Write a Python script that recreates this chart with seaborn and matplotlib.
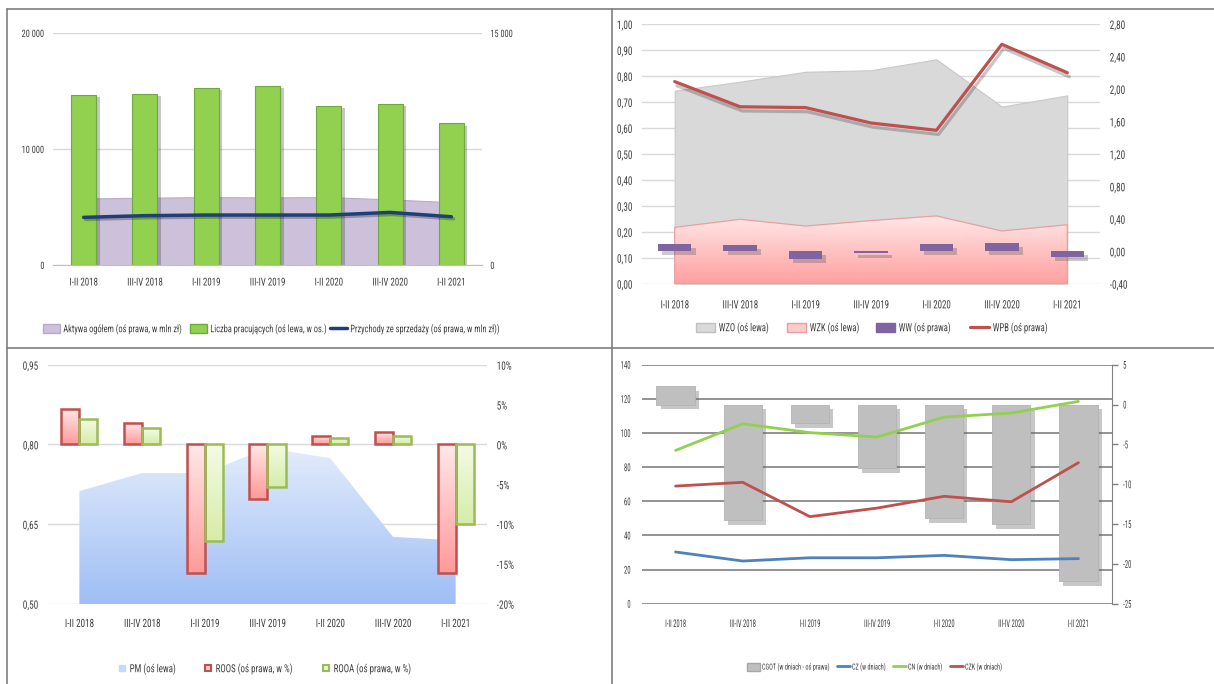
import numpy as np
import pandas as pd
import seaborn as sns
import matplotlib.pyplot as plt
import matplotlib.patheffects as pe
from matplotlib import font_manager
from matplotlib.colors import LinearSegmentedColormap
from matplotlib.lines import Line2D
from matplotlib.patches import Patch
from matplotlib.ticker import FuncFormatter
from matplotlib.transforms import Affine2D

okresy = ['I-II 2018', 'III-IV 2018', 'I-II 2019', 'III-IV 2019', 'I-II 2020', 'III-IV 2020', 'I-II 2021']

# panel 1 - zatrudnienie, aktywa, przychody
liczba_pracujacych = [14640, 14780, 15290, 15400, 13690, 13890, 12200]
aktywa = [4300, 4350, 4390, 4370, 4390, 4240, 4060]
przychody = [3080, 3190, 3230, 3230, 3230, 3400, 3120]

# panel 2 - wskazniki plynnosci
wzo = [0.743, 0.778, 0.816, 0.822, 0.864, 0.682, 0.725]
wzk = [0.217, 0.248, 0.222, 0.243, 0.261, 0.203, 0.227]
ww = [0.093, 0.076, -0.096, -0.026, 0.093, 0.105, -0.067]
wpb = [2.09, 1.78, 1.77, 1.58, 1.49, 2.55, 2.20]

# panel 3 - rentownosc
pm = [0.712, 0.746, 0.746, 0.793, 0.774, 0.626, 0.619]
roos = [4.5, 2.7, -16.1, -6.8, 1.05, 1.6, -16.1]
rooa = [3.2, 2.0, -12.1, -5.4, 0.8, 1.05, -10.0]

# panel 4 - cykle (w dniach)
cgot = [2.3, -14.5, -2.3, -8.0, -14.3, -15.0, -22.2]
cz = [30.3, 25.0, 26.9, 26.9, 28.3, 25.8, 26.4]
cn = [89.8, 105.4, 100.2, 97.6, 109.3, 111.7, 118.5]
czk = [68.9, 71.1, 51.0, 56.0, 62.9, 59.7, 82.6]

sns.set_style('white')

# waska czcionka, jesli jest (oryginal to sciesniony Calibri)
fonts = font_manager.fontManager.ttflist
names = {f.name for f in fonts}
stretch = 'normal'
family = 'Liberation Sans'
for cand in ['Liberation Sans Narrow', 'Roboto Condensed', 'Open Sans Condensed', 'Arial Narrow']:
    if cand in names:
        family = cand
        break
else:
    if any(f.name == 'DejaVu Sans' and f.stretch == 'condensed' for f in fonts):
        family, stretch = 'DejaVu Sans', 'condensed'
    else:
        cond = sorted(n for n in names if 'Condensed' in n or 'Narrow' in n)
        if cond:
            family = cond[0]
plt.rcParams['font.family'] = [family, 'DejaVu Sans']
plt.rcParams['font.stretch'] = stretch
plt.rcParams['axes.unicode_minus'] = False

W, H = 1214, 684
fig = plt.figure(figsize=(W / 100, H / 100), dpi=100)
pos = np.arange(len(okresy))
txt = '#404040'


class Squeeze(pe.AbstractPathEffect):
    """zweza napis w poziomie (obraz oryginalu jest sciesniony)"""

    def __init__(self, sx, anchor='center'):
        super().__init__()
        self.sx = sx
        self.anchor = anchor

    def draw_path(self, renderer, gc, tpath, affine, rgbFace=None):
        ext = tpath.get_extents()
        cx = {'left': 0, 'center': (ext.x0 + ext.x1) / 2, 'right': ext.x1}[self.anchor]
        t = Affine2D().translate(-cx, 0).scale(self.sx, 1).translate(cx, 0) + affine
        renderer.draw_path(gc, tpath, t, rgbFace)


def squeeze_ticks(ax, sx, which):
    if which == 'x':
        for t in ax.get_xticklabels():
            t.set_path_effects([Squeeze(sx, 'center')])
    elif which == 'left':
        for t in ax.get_yticklabels():
            t.set_path_effects([Squeeze(sx, 'right')])
    else:
        for t in ax.get_yticklabels():
            t.set_path_effects([Squeeze(sx, 'left')])


def box(x0, y0, x1, y1):
    return [x0 / W, 1 - y1 / H, (x1 - x0) / W, (y1 - y0) / H]


def clean(ax, size=7.5):
    for s in ax.spines.values():
        s.set_visible(False)
    ax.set_xlabel('')
    ax.set_ylabel('')
    ax.tick_params(length=0, labelsize=size, colors=txt)


def gradient(ax, clip, extent, c_top, c_bottom, z, transform=None):
    cmap = LinearSegmentedColormap.from_list('g', [c_bottom, c_top])
    img = ax.imshow(np.linspace(0, 1, 200).reshape(-1, 1), cmap=cmap, extent=extent,
                    origin='lower', aspect='auto', zorder=z, interpolation='bilinear')
    if transform is None:
        img.set_clip_path(clip)
    else:
        img.set_clip_path(clip, transform)
    return img


def legend_row(handles, labels, xs, y, sx, size, hlen, **kw):
    # kazdy wpis osobno, na pozycji z oryginalu
    for h, lab, x in zip(handles, labels, xs):
        leg = fig.legend([h], [lab], loc='center left', bbox_to_anchor=(x / W, 1 - y / H),
                         frameon=False, borderpad=0, borderaxespad=0, fontsize=size,
                         labelcolor=txt, handlelength=hlen, handletextpad=0.3, **kw)
        for t in leg.get_texts():
            t.set_path_effects([Squeeze(sx, 'left')])


dec2 = FuncFormatter(lambda v, p: f'{(0 if abs(v) < 1e-9 else v):.2f}'.replace('.', ','))
thous = FuncFormatter(lambda v, p: f'{v:,.0f}'.replace(',', ' '))
SX = 0.82

# ---------------- panel 1 ----------------
ax1 = fig.add_axes(box(53, 33, 482, 265))
ax1r = ax1.twinx()
ax1l = ax1.twinx()
ax1r.set_zorder(0)
ax1.set_zorder(1)
ax1l.set_zorder(2)
ax1.patch.set_visible(False)
ax1l.patch.set_visible(False)

ax1r.fill_between(pos, aktywa, color='#ccc0da', edgecolor='#b8aacb', lw=0.8)
sns.barplot(x=pos, y=liczba_pracujacych, ax=ax1, color='#92d050', width=0.41,
            saturation=1, edgecolor='#6fa83f', linewidth=0.8)
for bar in ax1.patches:
    bar.set_path_effects([pe.SimplePatchShadow(offset=(2.5, -1.5), shadow_rgbFace='#404040', alpha=0.3),
                          pe.Normal()])
sns.lineplot(x=pos, y=przychody, ax=ax1l, color='#1f3f7a', lw=2.5)
ax1l.lines[-1].set_path_effects([pe.SimpleLineShadow(offset=(1.5, -1.5), alpha=0.25), pe.Normal()])

for a in (ax1, ax1r, ax1l):
    clean(a, 7.3)
ax1.set_ylim(0, 20000)
ax1.set_yticks([0, 10000, 20000])
ax1.yaxis.set_major_formatter(thous)
ax1.grid(axis='y', color='#d9d9d9', lw=1)
ax1.set_axisbelow(True)
ax1r.set_ylim(0, 15000)
ax1r.set_yticks([0, 15000])
ax1r.yaxis.set_major_formatter(thous)
ax1l.set_ylim(0, 15000)
ax1l.tick_params(right=False, labelright=False)
ax1.set_xlim(-0.5, 6.5)
ax1.set_xticks(pos, okresy)
ax1.set_xticks(np.arange(-0.5, 7, 1), minor=True)
ax1.tick_params(axis='x', which='minor', length=4, color='#bfbfbf', width=1)
ax1.tick_params(axis='x', pad=9, labelsize=7.8)
ax1.tick_params(axis='y', pad=6)
ax1r.tick_params(axis='y', pad=6)
ax1.spines['bottom'].set_visible(True)
ax1.spines['bottom'].set_color('#bfbfbf')
squeeze_ticks(ax1, SX, 'x')
squeeze_ticks(ax1, SX, 'left')
squeeze_ticks(ax1r, SX, 'right')

legend_row([Patch(facecolor='#ccc0da', edgecolor='#b8aacb'),
            Patch(facecolor='#92d050', edgecolor='#6fa83f'),
            Line2D([], [], color='#1f3f7a', lw=2.5)],
           ['Aktywa ogółem (oś prawa, w mln zł)', 'Liczba pracujących (oś lewa, w os.)',
            'Przychody ze sprzedaży (oś prawa, w mln zł))'],
           [43, 190, 330], 329, 0.8, 7.5, 1.65, handleheight=0.85)

# ---------------- panel 2 ----------------
ax2 = fig.add_axes(box(642, 24, 1100, 283.7))
ax2r = ax2.twinx()
ax2.fill_between(pos, wzo, color='#d9d9d9', edgecolor='#c8c8c8', lw=0.8, zorder=2)
poly = ax2.fill_between(pos, wzk, facecolor='none', edgecolor='#e8a0a0', lw=0.9, zorder=3)
gradient(ax2, poly.get_paths()[0], (-0.5, 6.5, 0, max(wzk)), '#ffe6e6', '#ffa0a0', 2.5,
         ax2.transData)

sns.barplot(x=pos, y=ww, ax=ax2r, color='#8064a2', width=0.51, saturation=1, linewidth=0)
for bar in ax2r.patches:
    bar.set_path_effects([pe.SimplePatchShadow(offset=(3, -3), shadow_rgbFace='#505050', alpha=0.3),
                          pe.Normal()])
sns.lineplot(x=pos, y=wpb, ax=ax2r, color='#c0504d', lw=2.3)
ax2r.lines[-1].set_path_effects([pe.SimpleLineShadow(offset=(1.5, -3), alpha=0.22), pe.Normal()])

for a in (ax2, ax2r):
    clean(a, 8.5)
ax2.set_ylim(0, 1)
ax2.set_yticks(np.arange(0, 1.01, 0.1))
ax2.yaxis.set_major_formatter(dec2)
ax2.grid(axis='y', color='#d9d9d9', lw=1)
ax2.set_axisbelow(True)
ax2r.set_ylim(-0.4, 2.8)
ax2r.set_yticks(np.arange(-0.4, 2.81, 0.4))
ax2r.yaxis.set_major_formatter(dec2)
ax2.set_xlim(-0.5, 6.5)
ax2.set_xticks(pos, okresy)
ax2.tick_params(axis='x', pad=12, labelsize=8.2)
ax2.tick_params(axis='y', pad=7)
ax2r.tick_params(axis='y', pad=7)
squeeze_ticks(ax2, 0.78, 'x')
squeeze_ticks(ax2, 0.78, 'left')
squeeze_ticks(ax2r, 0.78, 'right')

legend_row([Patch(facecolor='#d9d9d9', edgecolor='#c0c0c0'),
            Patch(facecolor='#ffcaca', edgecolor='#e8a0a0'),
            Patch(facecolor='#8064a2', edgecolor='#8064a2'),
            Line2D([], [], color='#c0504d', lw=2.3)],
           ['WZO (oś lewa)', 'WZK (oś lewa)', 'WW (oś prawa)', 'WPB (oś prawa)'],
           [696, 787, 876, 970], 328, 0.78, 8, 1.75, handleheight=0.85)

# ---------------- panel 3 ----------------
ax3 = fig.add_axes(box(48, 364.7, 487, 603.7))
ax3r = ax3.twinx()
poly = ax3.fill_between(pos, pm, 0, facecolor='none', lw=0, zorder=1)
gradient(ax3, poly.get_paths()[0], (-0.5, 6.5, 0.5, max(pm)), '#e2ecfb', '#9fbef5', 1,
         ax3.transData)

df3 = pd.DataFrame({'pos': np.concatenate([pos, pos]),
                    'wskaznik': ['ROOS'] * 7 + ['ROOA'] * 7,
                    'wartosc': roos + rooa})
sns.barplot(data=df3, x='pos', y='wartosc', hue='wskaznik',
            palette={'ROOS': '#ffc0c0', 'ROOA': '#e2f2c4'}, width=0.575,
            saturation=1, ax=ax3r, legend=False)
styles = [('#c0504d', '#ffe8e8', '#ff9a9a'), ('#9bbb59', '#f4fbe6', '#d5eda8')]
for cont, (edge, ctop, cbot) in zip(ax3r.containers, styles):
    for bar in cont:
        y0, y1 = sorted([bar.get_y(), bar.get_y() + bar.get_height()])
        bar.set_facecolor('none')
        bar.set_edgecolor(edge)
        bar.set_linewidth(1.8)
        bar.set_zorder(2)
        gradient(ax3r, bar, (bar.get_x(), bar.get_x() + bar.get_width(), y0, y1), ctop, cbot, 1.5)

for a in (ax3, ax3r):
    clean(a, 8.3)
ax3.set_ylim(0.5, 0.95)
ax3.set_yticks([0.5, 0.65, 0.8, 0.95])
ax3.yaxis.set_major_formatter(dec2)
ax3.grid(axis='y', color='#d9d9d9', lw=1)
ax3.set_axisbelow(True)
ax3r.set_ylim(-20, 10)
ax3r.set_yticks(np.arange(-20, 11, 5))
ax3r.yaxis.set_major_formatter(FuncFormatter(lambda v, p: f'{v:.0f}%'))
ax3.set_xlim(-0.5, 6.5)
ax3.set_xticks(pos, okresy)
ax3.tick_params(axis='x', pad=11, labelsize=8.2)
ax3.tick_params(axis='y', pad=7)
ax3r.tick_params(axis='y', pad=7)
squeeze_ticks(ax3, 0.8, 'x')
squeeze_ticks(ax3, 0.8, 'left')
squeeze_ticks(ax3r, 0.8, 'right')

legend_row([Line2D([], [], marker='s', ls='', ms=5, mfc='#c6d9f8', mec='#c6d9f8'),
            Line2D([], [], marker='s', ls='', ms=5, mfc='#ffd0d0', mec='#c0504d', mew=1.5),
            Line2D([], [], marker='s', ls='', ms=5, mfc='#eaf5d5', mec='#9bbb59', mew=1.5)],
           ['PM (oś lewa)', 'ROOS (oś prawa, w %)', 'ROOA (oś prawa, w %)'],
           [118, 204, 322], 669, 0.8, 8, 0.75)

# ---------------- panel 4 ----------------
ax4 = fig.add_axes(box(642, 364.7, 1112, 603.7))   # os lewa: siatka i opisy
ax4r = ax4.twinx()                                  # os prawa: CGOT
ax4l = ax4.twinx()                                  # linie (os lewa)
ax4.set_zorder(0)
ax4r.set_zorder(1)
ax4l.set_zorder(2)
ax4r.patch.set_visible(False)
ax4l.patch.set_visible(False)

sns.barplot(x=pos, y=cgot, ax=ax4r, color='#bfbfbf', width=0.57, saturation=1,
            edgecolor='#b3b3b3', linewidth=0.6)
for bar in ax4r.patches:
    bar.set_path_effects([pe.SimplePatchShadow(offset=(3, -3.5), shadow_rgbFace='#606060', alpha=0.35),
                          pe.Normal()])
for vals, col in [(cz, '#4f81bd'), (cn, '#92d050'), (czk, '#c0504d')]:
    sns.lineplot(x=pos, y=vals, ax=ax4l, color=col, lw=2)

for a in (ax4, ax4r, ax4l):
    clean(a, 7.8)
ax4.set_ylim(0, 140)
ax4.set_yticks(np.arange(0, 141, 20))
ax4.grid(axis='y', color='#808080', lw=1.2)
ax4l.set_ylim(0, 140)
ax4l.tick_params(right=False, labelright=False)
ax4r.set_ylim(-25, 5)
ax4r.set_yticks(np.arange(-25, 6, 5))
ax4r.spines['right'].set_visible(True)
ax4r.spines['right'].set_color('#808080')
ax4r.tick_params(axis='y', length=4, color='#808080', width=1, pad=4)
ax4.tick_params(axis='y', pad=8)
ax4.set_xlim(-0.5, 6.5)
ax4.set_xticks(pos, okresy)
ax4.tick_params(axis='x', labelsize=7.6, pad=11)
squeeze_ticks(ax4, 0.62, 'x')
squeeze_ticks(ax4, 0.62, 'left')
squeeze_ticks(ax4r, 0.62, 'right')

legend_row([Patch(facecolor='#bfbfbf', edgecolor='#a6a6a6'),
            Line2D([], [], color='#4f81bd', lw=2),
            Line2D([], [], color='#92d050', lw=2),
            Line2D([], [], color='#c0504d', lw=2)],
           ['CGOT (w dniach - oś prawa)', 'CZ (w dniach)', 'CN (w dniach)', 'CZK (w dniach)'],
           [747, 837, 893, 950], 667, 0.74, 6.0, 1.5, handleheight=1.1)

# ramki paneli
ramka = dict(transform=fig.transFigure, color='#7f7f7f', lw=1.2)
fig.add_artist(Line2D([7 / W, 1], [1 - 9 / H, 1 - 9 / H], **ramka))
fig.add_artist(Line2D([7 / W, 7 / W], [0, 1 - 9 / H], **ramka))
fig.add_artist(Line2D([612 / W, 612 / W], [0, 1 - 9 / H], **ramka))
fig.add_artist(Line2D([7 / W, 1], [1 - 348 / H, 1 - 348 / H], **ramka))

fig.savefig('out.png', dpi=100)
